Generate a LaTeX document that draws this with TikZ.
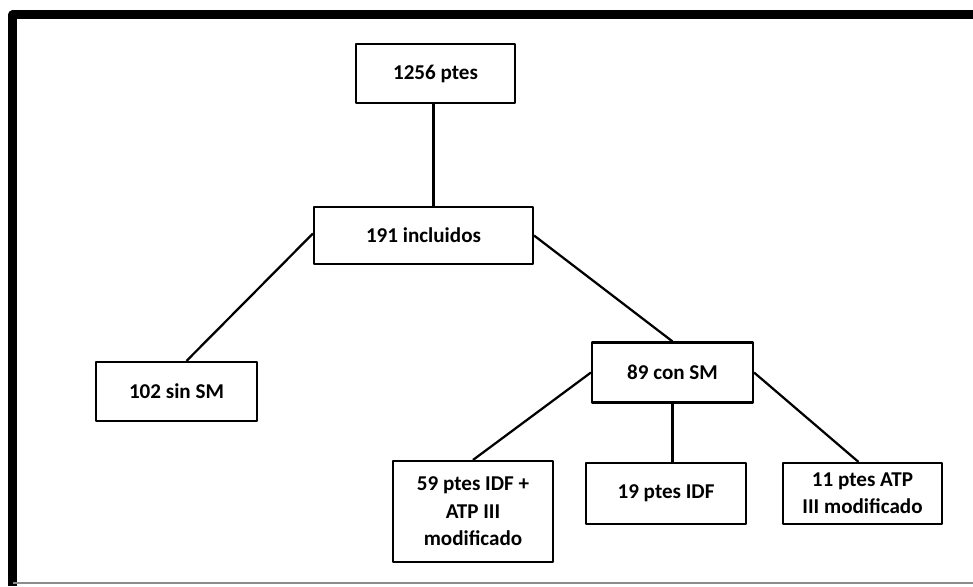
\documentclass[tikz,border=0pt]{standalone}
\usepackage{fontspec}
\setmainfont{Carlito}
\tikzset{
	caja/.style={draw, line width=1.5pt, align=center, inner sep=2pt},
	linea/.style={line width=1.6pt}
}
\begin{document}
\begin{tikzpicture}[x=0.025cm, y=-0.025cm, font=\fontsize{15}{19.5}\selectfont\bfseries, line join=round]
	\useasboundingbox (0,0) rectangle (973,586);
	% Marco
	\draw[line width=5.7pt] (12.5,586) -- (12.5,14.5) -- (973,14.5);
	\draw[line width=1.1pt, black!45] (12.5,583) -- (973,583);
	% Cajas
	\node[caja, minimum width=159*0.025cm, minimum height=59*0.025cm] (ptes) at (435.5,73.5) {1256 ptes};
	\node[caja, minimum width=219*0.025cm, minimum height=57*0.025cm] (incl) at (423.5,235.5) {191 incluidos};
	\node[caja, minimum width=161*0.025cm, minimum height=59*0.025cm] (sinsm) at (176.5,391.5) {102 sin SM};
	\node[caja, minimum width=161*0.025cm, minimum height=60*0.025cm] (consm) at (672.5,372.5) {89 con SM};
	\node[caja, minimum width=160*0.025cm, minimum height=101*0.025cm] (idfatp) at (473,511.5) {59 ptes IDF +\\ATP III\\modificado};
	\node[caja, minimum width=160*0.025cm, minimum height=61*0.025cm] (idf) at (666,493.5) {19 ptes IDF};
	\node[caja, minimum width=159*0.025cm, minimum height=61*0.025cm] (atp) at (862.5,493.5) {11 ptes ATP\\III modificado};
	% Conexiones
	\draw[linea] ([xshift=-2*0.025cm]ptes.south) -- ([xshift=-2*0.025cm]ptes.south |- incl.north);
	\draw[linea] ([yshift=2*0.025cm]incl.west) -- ([xshift=10*0.025cm]sinsm.north);
	\draw[linea] (incl.east) -- (consm.north);
	\draw[linea] (consm.west) -- (idfatp.north);
	\draw[linea] (consm.south) -- (consm.south |- idf.north);
	\draw[linea] (consm.east) -- ([xshift=-4*0.025cm]atp.north);
\end{tikzpicture}
\end{document}
